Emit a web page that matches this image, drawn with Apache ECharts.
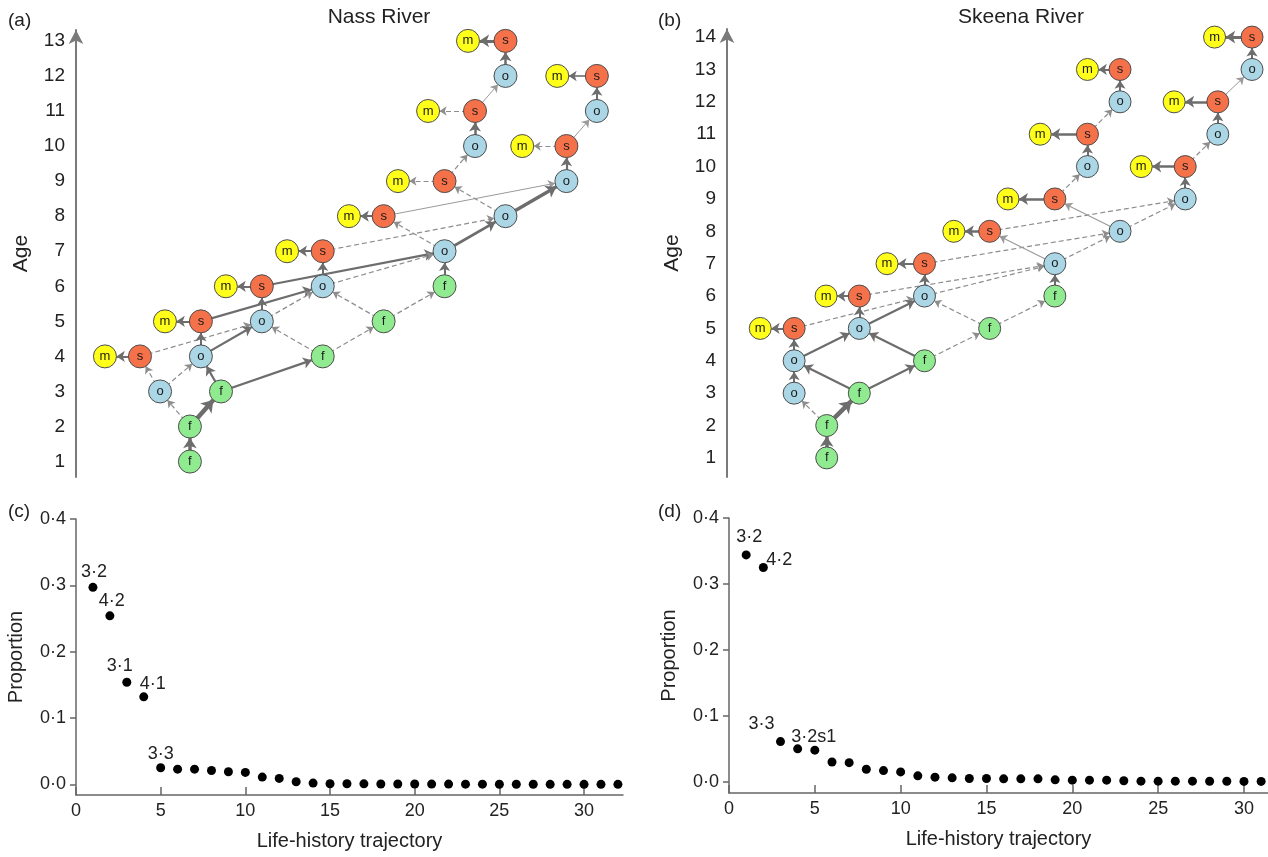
<!DOCTYPE html>
<html>
<head>
<meta charset="utf-8">
<script src="https://cdn.jsdelivr.net/npm/echarts@6/dist/echarts.min.js"></script>
<style>
html, body { margin: 0; padding: 0; background: #fff; }
#main { width: 1268px; height: 857px; }
</style>
</head>
<body>
<div id="main"></div>
<script>
// ---- data ----
// life-history nodes: [id, stage, column, age]
var nassNodes = [
    ['f1', 'f', 1.64, 1], ['f2', 'f', 1.64, 2],
    ['o3', 'o', 0.66, 3], ['f3', 'f', 2.66, 3],
    ['m4', 'm', -1.15, 4], ['s4', 's', 0, 4], ['o4', 'o', 2, 4], ['f4', 'f', 6, 4],
    ['m5', 'm', 0.82, 5], ['s5', 's', 2, 5], ['o5', 'o', 4, 5], ['f5', 'f', 8, 5],
    ['m6', 'm', 2.82, 6], ['s6', 's', 4, 6], ['o6', 'o', 6, 6], ['f6', 'f', 10, 6],
    ['m7', 'm', 4.83, 7], ['s7', 's', 6, 7], ['o7', 'o', 10, 7],
    ['m8', 'm', 6.86, 8], ['s8', 's', 8, 8], ['o8', 'o', 12, 8],
    ['m9', 'm', 8.47, 9], ['s9', 's', 10, 9], ['o9', 'o', 14, 9],
    ['o10', 'o', 11, 10], ['m10', 'm', 12.55, 10], ['s10', 's', 14, 10],
    ['m11', 'm', 9.46, 11], ['s11', 's', 11, 11], ['o11', 'o', 15, 11],
    ['o12', 'o', 12, 12], ['m12', 'm', 13.7, 12], ['s12', 's', 15, 12],
    ['m13', 'm', 10.77, 13], ['s13', 's', 12, 13]
];
// transitions: [from, to, weight, rare(dashed)]
var nassLinks = [
    ['f1', 'f2', 3.5, 0], ['f2', 'f3', 4.5, 0], ['f2', 'o3', 1, 1],
    ['o3', 's4', 1, 1], ['o3', 'o4', 1, 1], ['f3', 'o4', 2.2, 0], ['f3', 'f4', 2.2, 0],
    ['s4', 'm4', 2, 0], ['s4', 'o5', 1, 1], ['o4', 's5', 2, 0], ['o4', 'o5', 2.2, 0],
    ['f4', 'o5', 1, 1], ['f4', 'f5', 1, 1],
    ['s5', 'm5', 2, 0], ['s5', 'o6', 2.2, 0], ['o5', 's6', 2, 0], ['o5', 'o6', 1, 1],
    ['f5', 'o6', 1, 1], ['f5', 'f6', 1, 1],
    ['s6', 'm6', 2, 0], ['s6', 'o7', 2.2, 0], ['o6', 's7', 2, 0], ['o6', 'o7', 1, 1], ['f6', 'o7', 2, 0],
    ['s7', 'm7', 2, 0], ['s7', 'o8', 1, 1], ['o7', 's8', 1, 1], ['o7', 'o8', 2.8, 0],
    ['s8', 'm8', 2, 0], ['s8', 'o9', 1, 0], ['o8', 's9', 1, 1], ['o8', 'o9', 3.5, 0],
    ['s9', 'm9', 1, 1], ['s9', 'o10', 1, 1], ['o9', 's10', 2.2, 0],
    ['s10', 'm10', 1, 1], ['s10', 'o11', 1, 0], ['o10', 's11', 2.5, 0],
    ['s11', 'm11', 1, 1], ['s11', 'o12', 1, 0], ['o11', 's12', 2, 0],
    ['s12', 'm12', 1.6, 0], ['o12', 's13', 2.5, 0], ['s13', 'm13', 3, 0]
];
var skeenaNodes = [
    ['f1', 'f', 1, 1], ['f2', 'f', 1, 2],
    ['o3', 'o', 0, 3], ['f3', 'f', 2, 3],
    ['o4', 'o', 0, 4], ['f4', 'f', 4, 4],
    ['m5', 'm', -1.04, 5], ['s5', 's', 0, 5], ['o5', 'o', 2, 5], ['f5', 'f', 6, 5],
    ['m6', 'm', 0.98, 6], ['s6', 's', 2, 6], ['o6', 'o', 4, 6], ['f6', 'f', 8, 6],
    ['m7', 'm', 2.85, 7], ['s7', 's', 4, 7], ['o7', 'o', 8, 7],
    ['m8', 'm', 4.9, 8], ['s8', 's', 6, 8], ['o8', 'o', 10, 8],
    ['m9', 'm', 6.56, 9], ['s9', 's', 8, 9], ['o9', 'o', 12, 9],
    ['o10', 'o', 9, 10], ['m10', 'm', 10.65, 10], ['s10', 's', 12, 10],
    ['m11', 'm', 7.55, 11], ['s11', 's', 9, 11], ['o11', 'o', 13, 11],
    ['o12', 'o', 10, 12], ['m12', 'm', 11.66, 12], ['s12', 's', 13, 12],
    ['m13', 'm', 9, 13], ['s13', 's', 10, 13], ['o13', 'o', 14.05, 13],
    ['m14', 'm', 12.9, 14], ['s14', 's', 14.05, 14]
];
var skeenaLinks = [
    ['f1', 'f2', 3.5, 0], ['f2', 'f3', 4.5, 0], ['f2', 'o3', 1, 1],
    ['o3', 'o4', 2, 0], ['f3', 'o4', 2.2, 0], ['f3', 'f4', 2.2, 0],
    ['o4', 's5', 2, 0], ['o4', 'o5', 2.2, 0], ['f4', 'o5', 2.2, 0], ['f4', 'f5', 1, 1],
    ['s5', 'm5', 2, 0], ['s5', 'o6', 1, 1], ['o5', 's6', 2, 0], ['o5', 'o6', 2.2, 0],
    ['f5', 'o6', 1, 1], ['f5', 'f6', 1, 1],
    ['s6', 'm6', 2, 0], ['s6', 'o7', 1, 1], ['o6', 's7', 2, 0], ['o6', 'o7', 1, 1], ['f6', 'o7', 2, 0],
    ['s7', 'm7', 2, 0], ['s7', 'o8', 1, 1], ['o7', 's8', 1.2, 0], ['o7', 'o8', 1, 1],
    ['s8', 'm8', 2.5, 0], ['s8', 'o9', 1, 1], ['o8', 's9', 1.2, 0], ['o8', 'o9', 1, 1],
    ['s9', 'm9', 2.5, 0], ['s9', 'o10', 1, 1], ['o9', 's10', 2, 0],
    ['s10', 'm10', 2.5, 0], ['s10', 'o11', 1, 1], ['o10', 's11', 2, 0],
    ['s11', 'm11', 2.5, 0], ['s11', 'o12', 1, 1], ['o11', 's12', 2, 0],
    ['s12', 'm12', 2.5, 0], ['s12', 'o13', 1, 0], ['o12', 's13', 2, 0],
    ['s13', 'm13', 2, 0], ['o13', 's14', 2, 0], ['s14', 'm14', 3, 0]
];
var nassAges = [1, 2, 3, 4, 5, 6, 7, 8, 9, 10, 11, 12, 13];
var skeenaAges = [1, 2, 3, 4, 5, 6, 7, 8, 9, 10, 11, 12, 13, 14];

// proportion of fish per life-history trajectory (ranked)
var nassProp = [0.297, 0.254, 0.154, 0.132, 0.025, 0.023, 0.023, 0.021, 0.019, 0.018,
    0.011, 0.009, 0.004, 0.002, 0.001, 0.001, 0.0008, 0.0006, 0.0005, 0.0005,
    0.0004, 0.0004, 0.0003, 0.0003, 0.0002, 0.0002, 0.0002, 0.0001, 0.0001, 0.0001,
    0.0001, 0.0001];
var nassTopNames = ['3·2', '4·2', '3·1', '4·1', '3·3'];
var skeenaProp = [0.344, 0.325, 0.061, 0.050, 0.048, 0.030, 0.029, 0.019, 0.017, 0.015,
    0.009, 0.007, 0.006, 0.005, 0.005, 0.0045, 0.0045, 0.0045, 0.003, 0.0025,
    0.0025, 0.0025, 0.0015, 0.001, 0.001, 0.001, 0.001, 0.0008, 0.0008, 0.0006,
    0.0006];
var skeenaTopNames = ['3·2', '4·2', '3·3', '3·2s1'];
var xTicks = [0, 5, 10, 15, 20, 25, 30];
var yTicks = [0, 0.1, 0.2, 0.3, 0.4];

// ---- styles ----
var FONT = 'Liberation Sans, Arial, sans-serif';
var stageColor = { m: '#ffff1a', s: '#f4714a', o: '#aad6e6', f: '#90ea90' };
var nassLabelOffset = [[1, 2], [2, 3], [-7, 1], [9, 5], [0, 4]];
var skeenaLabelOffset = [[3, 0], [16, 10], [-19, 0], [16, 6]];

function graphNodes(nodes) {
    return nodes.map(function (n) { return { name: n[0], value: [n[2], n[3]] }; });
}
function stageNodes(nodes) {
    return nodes.map(function (n) {
        return { name: n[1], value: [n[2], n[3]], itemStyle: { color: stageColor[n[1]] } };
    });
}
function graphLinks(links) {
    return links.map(function (l) {
        var dashed = l[3] === 1;
        var w = dashed ? 1.2 : l[2];
        var col = dashed ? '#8d8d8d' : (w <= 1.2 ? '#9a9a9a' : '#6d6d6d');
        return {
            source: l[0], target: l[1],
            symbolSize: [0, dashed ? 7 : 6 + w * 1.2],
            lineStyle: { width: w, type: dashed ? [5, 3] : 'solid', color: col, opacity: 1, curveness: 0 }
        };
    });
}
function propData(vals, names, offsets) {
    return vals.map(function (v, i) {
        var item = { value: [i + 1, v] };
        if (i < names.length) {
            item.label = { show: true, position: 'top', formatter: names[i], offset: offsets[i] };
        }
        return item;
    });
}
function decFmt(v) { return v.toFixed(1).replace('.', '·'); }

function ageAxis(grid, min, max, ticks) {
    return {
        gridIndex: grid, type: 'value', min: min, max: max,
        axisLine: { show: true, onZero: false, symbol: ['none', 'arrow'], symbolSize: [11, 14],
            lineStyle: { color: '#7a7a7a', width: 2 } },
        axisTick: { show: false },
        splitLine: { show: false },
        axisLabel: { customValues: ticks, fontSize: 19, color: '#222', margin: 11, fontFamily: FONT },
        name: 'Age', nameLocation: 'middle', nameGap: 44,
        nameTextStyle: { fontSize: 21, color: '#222', fontFamily: FONT }
    };
}
function propYAxis(grid, min) {
    return {
        gridIndex: grid, type: 'value', min: min, max: 0.4,
        axisLine: { show: true, onZero: false, lineStyle: { color: '#666', width: 1.5 } },
        axisTick: { show: true, customValues: yTicks, length: 6, lineStyle: { color: '#666', width: 1.5 } },
        splitLine: { show: false },
        axisLabel: { customValues: yTicks, formatter: decFmt, fontSize: 18, color: '#222', margin: 10, fontFamily: FONT },
        name: 'Proportion', nameLocation: 'middle', nameGap: 50,
        nameTextStyle: { fontSize: 20, color: '#222', fontFamily: FONT }
    };
}
function propXAxis(grid, max) {
    return {
        gridIndex: grid, type: 'value', min: 0, max: max,
        axisLine: { show: true, onZero: false, lineStyle: { color: '#666', width: 1.5 } },
        axisTick: { show: true, inside: true, customValues: xTicks, length: 8, lineStyle: { color: '#666', width: 1.5 } },
        splitLine: { show: false },
        axisLabel: { customValues: xTicks, fontSize: 18, color: '#222', margin: 7, fontFamily: FONT },
        name: 'Life-history trajectory', nameLocation: 'middle', nameGap: 36,
        nameTextStyle: { fontSize: 20, color: '#222', fontFamily: FONT }
    };
}
function edgeSeries(idx, nodes, links, size) {
    return {
        type: 'graph', coordinateSystem: 'cartesian2d', xAxisIndex: idx, yAxisIndex: idx,
        symbolSize: size, itemStyle: { opacity: 0 }, label: { show: false },
        edgeSymbol: ['none', 'arrow'], edgeSymbolSize: [0, 7],
        data: graphNodes(nodes), links: graphLinks(links), silent: true, z: 2
    };
}
function nodeSeries(idx, nodes, size) {
    return {
        type: 'scatter', xAxisIndex: idx, yAxisIndex: idx, symbolSize: size, z: 3, silent: true,
        itemStyle: { borderColor: '#4d4d4d', borderWidth: 1, opacity: 1 },
        label: { show: true, position: 'inside', formatter: '{b}', color: '#1a1a1a', fontSize: 13, fontFamily: FONT },
        data: stageNodes(nodes)
    };
}
function propSeries(idx, vals, names, offsets) {
    return {
        type: 'scatter', xAxisIndex: idx, yAxisIndex: idx, symbolSize: 9, silent: true,
        itemStyle: { color: '#000', opacity: 1 },
        label: { color: '#222', fontSize: 18, fontFamily: FONT, distance: 4 },
        data: propData(vals, names, offsets)
    };
}

var chart = echarts.init(document.getElementById('main'));
var option = {
    animation: false,
    backgroundColor: '#fff',
    textStyle: { fontFamily: FONT },
    grid: [
        { left: 76, top: 30, width: 544, height: 447 },
        { left: 727, top: 29, width: 541, height: 448 },
        { left: 76, top: 519, width: 547, height: 276 },
        { left: 729, top: 518, width: 539, height: 275 }
    ],
    xAxis: [
        { gridIndex: 0, type: 'value', min: -2.1, max: 15.76, show: false },
        { gridIndex: 1, type: 'value', min: -2.06, max: 14.54, show: false },
        propXAxis(2, 32.3),
        propXAxis(3, 31.4)
    ],
    yAxis: [
        ageAxis(0, 0.56, 13.31, nassAges),
        ageAxis(1, 0.41, 14.25, skeenaAges),
        propYAxis(2, -0.016),
        propYAxis(3, -0.017)
    ],
    graphic: [
        { type: 'text', x: 8, y: 11, style: { text: '(a)', font: '19px ' + FONT, fill: '#222' } },
        { type: 'text', x: 658, y: 11, style: { text: '(b)', font: '19px ' + FONT, fill: '#222' } },
        { type: 'text', x: 8, y: 502, style: { text: '(c)', font: '19px ' + FONT, fill: '#222' } },
        { type: 'text', x: 658, y: 502, style: { text: '(d)', font: '19px ' + FONT, fill: '#222' } },
        { type: 'text', x: 379, y: 17, style: { text: 'Nass River', font: '21px ' + FONT, fill: '#222', align: 'center', verticalAlign: 'middle' } },
        { type: 'text', x: 1021, y: 17, style: { text: 'Skeena River', font: '21px ' + FONT, fill: '#222', align: 'center', verticalAlign: 'middle' } }
    ],
    series: [
        edgeSeries(0, nassNodes, nassLinks, 23),
        nodeSeries(0, nassNodes, 23),
        edgeSeries(1, skeenaNodes, skeenaLinks, 22),
        nodeSeries(1, skeenaNodes, 22),
        propSeries(2, nassProp, nassTopNames, nassLabelOffset),
        propSeries(3, skeenaProp, skeenaTopNames, skeenaLabelOffset)
    ]
};
chart.setOption(option);
</script>
</body>
</html>
